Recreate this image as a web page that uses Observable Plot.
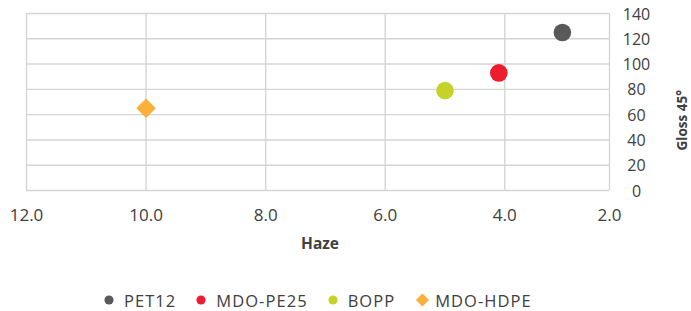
<!DOCTYPE html>
<html>
<head>
<meta charset="utf-8">
<script src="https://cdn.jsdelivr.net/npm/d3@7"></script>
<script src="https://cdn.jsdelivr.net/npm/@observablehq/plot@0.6"></script>
<style>
  html, body { margin: 0; padding: 0; background: #fff; }
  body { width: 691px; height: 311px; overflow: hidden; font-family: "Open Sans", sans-serif; }
  #legend { display: flex; align-items: center; margin-top: 25px; padding-left: 104px; height: 20px;
            font-size: 16.5px; letter-spacing: 1.05px; color: #404040; }
  #legend .item { display: flex; align-items: center; margin-right: 20px; }
</style>
</head>
<body>
<div id="chart"></div>
<div id="legend"></div>
<script>
const series = ["PET12", "MDO-PE25", "BOPP", "MDO-HDPE"];
const haze = [2.9, 4.1, 5.0, 10.0];
const gloss = [125, 93, 79, 65];
const colors = ["#595959", "#ED1C2E", "#C4D22A", "#FBB03B"];
const symbols = ["circle", "circle", "circle", "diamond2"];
const xTicks = [12, 10, 8, 6, 4, 2];
const yTicks = [0, 20, 40, 60, 80, 100, 120, 140];
const xTitle = "Haze";
const yTitle = "Gloss 45°";

const data = series.map((name, i) => ({name, haze: haze[i], gloss: gloss[i]}));
const grid = "#d5d5d5";

const chart = Plot.plot({
  width: 691,
  height: 265,
  marginTop: 13,
  marginBottom: 75,
  marginLeft: 26,
  marginRight: 82,
  style: {fontFamily: "'Open Sans', sans-serif", background: "#fff", overflow: "visible"},
  x: {type: "linear", domain: [12, 4, 2], range: [26, 504.3, 609]},
  y: {type: "linear", domain: [0, 140]},
  color: {domain: series, range: colors},
  symbol: {domain: series, range: symbols},
  marks: [
    Plot.ruleY(yTicks, {stroke: grid, strokeWidth: 1.4}),
    Plot.ruleX(xTicks, {stroke: grid, strokeWidth: 1.4}),
    Plot.axisX({ticks: xTicks, tickFormat: d3.format(".1f"), tickSize: 0, tickPadding: 18,
                fontSize: 17, fill: "#404040", label: null}),
    Plot.axisY({ticks: yTicks, anchor: "right", tickSize: 0, tickPadding: 27, textAnchor: "middle",
                fontSize: 16, fill: "#404040", label: null, dy: 1}),
    Plot.text([xTitle], {frameAnchor: "bottom", dx: 2, dy: 58, fontWeight: "bold", fontSize: 15.5, fill: "#404040"}),
    Plot.text([yTitle], {frameAnchor: "right", dx: 73.5, dy: -12, rotate: -90, fontWeight: "bold", fontSize: 13.5,
                         letterSpacing: "-0.2px", fill: "#404040"}),
    Plot.dot(data, {x: "haze", y: "gloss", fill: "name", symbol: "name", r: 8.8, stroke: "none"})
  ]
});
document.getElementById("chart").appendChild(chart);

const legend = d3.select("#legend");
series.forEach((name, i) => {
  const item = legend.append("div").attr("class", "item");
  const isDiamond = symbols[i] === "diamond2";
  const sym = d3.symbol(isDiamond ? d3.symbolDiamond2 : d3.symbolCircle, isDiamond ? 110 : 66)();
  const w = isDiamond ? 15 : 10;
  item.append("svg").attr("width", w).attr("height", 16)
      .style("margin-right", isDiamond ? "5px" : "10px")
      .append("path").attr("d", sym).attr("transform", `translate(${w / 2},8)`).attr("fill", colors[i]);
  item.append("span").text(name);
});
</script>
</body>
</html>
